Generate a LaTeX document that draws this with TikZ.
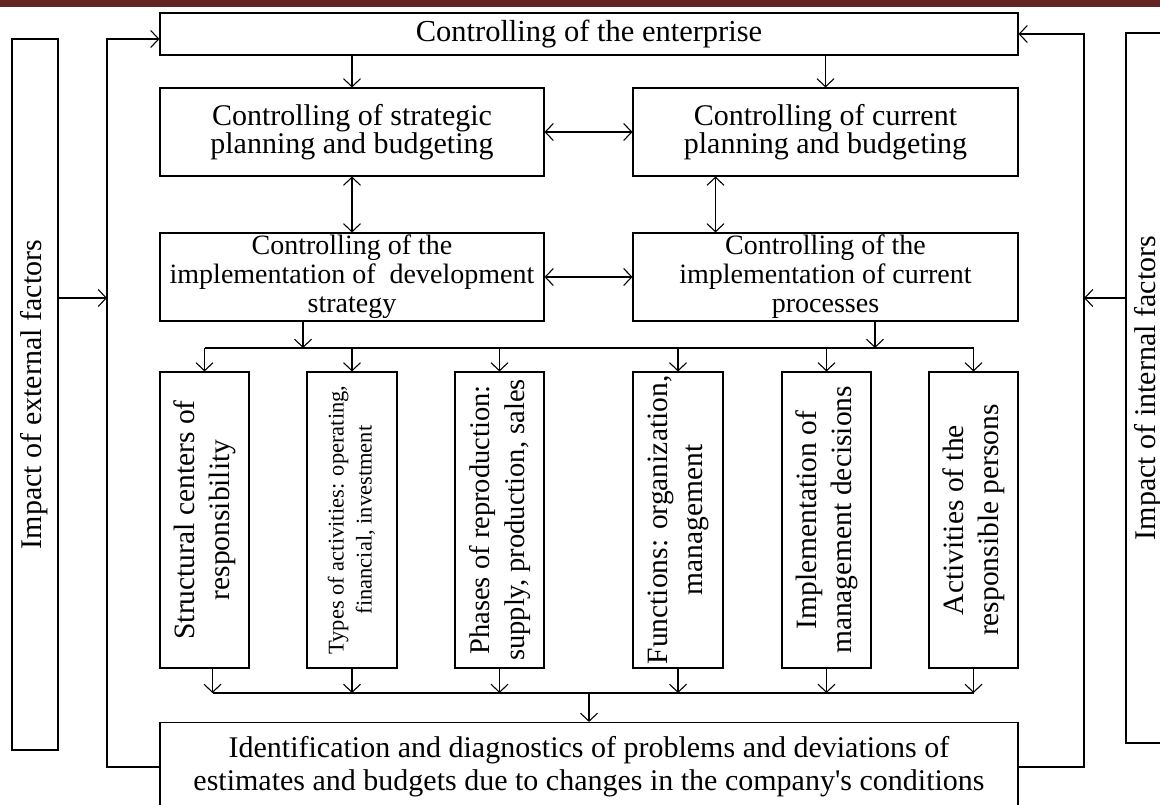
\documentclass[tikz,border=0pt]{standalone}
\usepackage{fontspec}
\usepackage{graphicx}
\setmainfont{Liberation Serif}
\newfontfamily\aposfont{Liberation Serif}[Ligatures=TeXOff]
\usetikzlibrary{arrows.meta,calc}
\definecolor{barred}{RGB}{99,36,35}
\newcommand{\vlab}[3]{\rotatebox{90}{\fontsize{#1}{#2}\selectfont\begin{tabular}{@{}c@{}}#3\end{tabular}}}
\tikzset{
  box/.style={draw, line width=1.1pt, inner sep=0pt, align=center},
  tip/.tip={Straight Barb[length=8pt,width=17pt]},
  arr/.style={line width=1.1pt, -tip},
  darr/.style={line width=1.1pt, tip-tip},
  ln/.style={line width=1.1pt}
}
\begin{document}
\begin{tikzpicture}[x=1pt,y=-1pt]
\clip (0,0) rectangle (1160,805);
\fill[white] (0,0) rectangle (1160,805);
\fill[barred] (0,0) rectangle (1160,7);

% main column
\node[box, minimum width=858pt, minimum height=42pt, font=\fontsize{30.5}{31}\selectfont] (top) at (589,34) {Controlling of the enterprise};
\node[box, minimum width=384pt, minimum height=88pt, font=\fontsize{30}{27}\selectfont] (s1) at (352,132) {Controlling of strategic\\planning and budgeting};
\node[box, minimum width=385pt, minimum height=88pt, font=\fontsize{30}{27}\selectfont] (c1) at (825.5,132) {Controlling of current\\planning and budgeting};
\node[box, minimum width=384pt, minimum height=88pt, font=\fontsize{28}{29}\selectfont] (s2) at (352,277) {Controlling of the\\implementation of \ development\\strategy};
\node[box, minimum width=385pt, minimum height=88pt, font=\fontsize{28}{29}\selectfont] (c2) at (825.5,277) {Controlling of the\\implementation of current\\processes};

% vertical boxes
\node[box, minimum width=89pt, minimum height=296pt] (b1) at (204.5,520) {\vlab{29.5}{35}{Structural centers of\\responsibility}};
\node[box, minimum width=90pt, minimum height=296pt] (b2) at (352,520) {\vlab{22.5}{28}{Types of activities: operating,\\financial, investment}};
\node[box, minimum width=89pt, minimum height=296pt] (b3) at (499.5,520) {\vlab{28.5}{35}{Phases of reproduction:\\supply, production, sales}};
\node[box, minimum width=90pt, minimum height=296pt] (b4) at (678,520) {\vlab{29.5}{35}{Functions: organization,\\management}};
\node[box, minimum width=89pt, minimum height=296pt] (b5) at (826.5,520) {\vlab{29.5}{35}{Implementation of\\management decisions}};
\node[box, minimum width=89pt, minimum height=296pt] (b6) at (973.5,520) {\vlab{29.5}{35}{Activities of the\\responsible persons}};

% bottom box
\node[box, minimum width=858pt, minimum height=89pt, font=\fontsize{30}{33}\selectfont] (bot) at (589,767) {Identification and diagnostics of problems and deviations of\\estimates and budgets due to changes in the company{\aposfont'}s conditions};

% side boxes
\node[box, minimum width=46pt, minimum height=711pt] (ext) at (35,394.5) {\vlab{30}{30}{Impact of external factors}};
\node[box, minimum width=46pt, minimum height=710pt] (int) at (1149,388) {\vlab{30}{30}{Impact of internal factors}};

% helper coordinates
\coordinate (busA) at (0,348);
\coordinate (busB) at (0,693);
\coordinate (lloop) at (107,298);
\coordinate (rloop) at (1084,298);
\coordinate (s2o) at ($(s2.south)+(-49,0)$);
\coordinate (c2o) at ($(c2.south)+(49.5,0)$);
\coordinate (c1o) at ($(c1.south)+(-110,0)$);
\coordinate (c2i) at ($(c2.north)+(-110,0)$);
\coordinate (b1o) at ($(b1.south)+(8,0)$);
\coordinate (topl) at ($(top.west)+(0,5)$);

% connectors
\draw[arr] (s1.north |- top.south) -- (s1.north);
\draw[arr] (c1.north |- top.south) -- (c1.north);
\draw[darr] (s1.east) -- (c1.west);
\draw[darr] (s1.south) -- (s2.north);
\draw[darr] (c1o) -- (c2i);
\draw[darr] (s2.east) -- (c2.west);

\draw[arr] (s2o) -- (s2o |- busA);
\draw[arr] (c2o) -- (c2o |- busA);
\draw[ln] (b1.north |- busA) -- (b6.north |- busA);
\foreach \b in {b1,b2,b3,b4,b5,b6}{
  \draw[arr] (\b.north |- busA) -- (\b.north);
}
\draw[arr] (b1o) -- (b1o |- busB);
\foreach \b in {b2,b3,b4,b5,b6}{
  \draw[arr] (\b.south) -- (\b.south |- busB);
}
\draw[ln] (b1o |- busB) -- (b6.south |- busB);
\draw[arr] (bot.north |- busB) -- (bot.north);

\draw[arr] (bot.west) -| (lloop) |- (topl);
\draw[arr] (ext.east |- lloop) -- (lloop);
\draw[arr] (bot.east) -| (rloop) |- (top.east);
\draw[arr] (int.west |- rloop) -- (rloop);
\end{tikzpicture}
\end{document}
